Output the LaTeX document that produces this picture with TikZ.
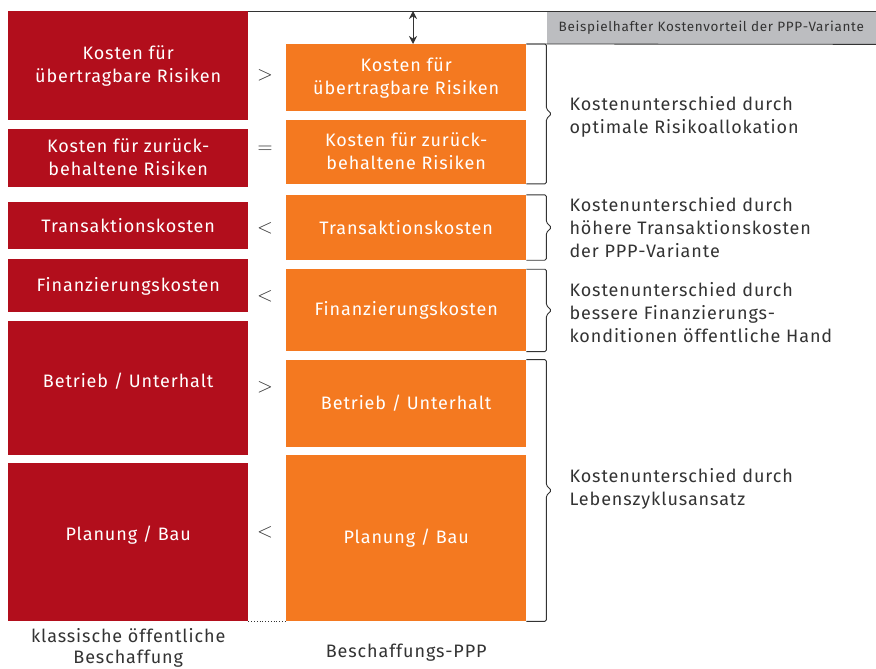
\documentclass[tikz,border=0pt]{standalone}
\usepackage{fontspec}
\setmainfont[LetterSpace=5]{Fira Sans}
\definecolor{KVRed}{HTML}{B20E1C}
\definecolor{KVOrange}{HTML}{F47920}
\definecolor{KVGray}{HTML}{BCBDC0}
\definecolor{KVText}{HTML}{333333}
\usetikzlibrary{positioning,arrows.meta,calc}

\begin{document}
\begin{tikzpicture}[x=1pt, y=-1pt, font=\fontsize{18}{23}\selectfont,
    redbox/.style={fill=KVRed, text=white, minimum width=240pt, inner sep=0pt, align=center},
    orangebox/.style={fill=KVOrange, text=white, minimum width=240pt, inner sep=0pt, align=center},
    relsym/.style={text=KVText, font=\fontsize{21}{23}\selectfont},
    note/.style={text=KVText, align=left, anchor=west},
    bracket/.style={draw=KVText, line width=0.9pt, rounded corners=1.5pt}]
    \useasboundingbox (0,0) rectangle (876,669);
    % klassische Beschaffung
    \node[redbox, anchor=north west, minimum height=109pt] (r1) at (8,11) {Kosten für\\übertragbare Risiken};
    \node[redbox, below=8pt of r1, minimum height=58pt] (r2) {Kosten für zurück-\\behaltene Risiken};
    \node[redbox, below=15pt of r2, minimum height=47pt] (r3) {Transaktionskosten};
    \node[redbox, below=10pt of r3, minimum height=53pt] (r4) {Finanzierungskosten};
    \node[redbox, below=8pt of r4, minimum height=134pt, text depth=16pt] (r5) {Betrieb / Unterhalt};
    \node[redbox, below=8pt of r5, minimum height=158pt, text depth=18pt] (r6) {Planung / Bau};
    % Beschaffungs-PPP
    \node[orangebox, anchor=north west, minimum height=67pt] (o1) at (286,44) {Kosten für\\übertragbare Risiken};
    \node[orangebox, below=8pt of o1, minimum height=64pt] (o2) {Kosten für zurück-\\behaltene Risiken};
    \node[orangebox, below=11pt of o2, minimum height=65pt] (o3) {Transaktionskosten};
    \node[orangebox, below=9pt of o3, minimum height=82pt] (o4) {Finanzierungskosten};
    \node[orangebox, below=8pt of o4, minimum height=87pt] (o5) {Betrieb / Unterhalt};
    \node[orangebox, below=8pt of o5, minimum height=166pt] (o6) {Planung / Bau};
    % Vergleich
    \node[relsym] (s1) at (265,75) {$>$};
    \node[relsym] (s2) at (265,150) {$=$};
    \node[relsym] (s3) at (265,228) {$<$};
    \node[relsym] (s4) at (265,296) {$<$};
    \node[relsym] (s5) at (265,387) {$>$};
    \node[relsym] (s6) at (265,532) {$<$};
    \draw[KVText, dotted, line width=0.8pt] (r6.south east) -- (o6.south west);
    % Kostenvorteil
    \node[fill=KVGray, text=KVText, anchor=north east, minimum width=329pt, minimum height=33pt,
      font=\fontsize{13.5}{16}\selectfont] (vt) at (876,11) {Beispielhafter Kostenvorteil der PPP-Variante};
    \draw[KVText, line width=0.8pt] (r1.north east) -- (vt.north east);
    \draw[KVText, line width=0.8pt] (o1.north east) -- (vt.south east);
    \coordinate (ad) at (413,11);
    \draw[KVText, line width=1pt, {Stealth[length=8pt,width=8pt]}-{Stealth[length=8pt,width=8pt]}] (ad) -- (ad |- o1.north);
    % Klammern
    \draw[bracket] (o1.north east) -- ++(20pt,0) |- ($(o1.north east)!0.5!(o2.south east)+(20pt,5pt)$)
      -- ++(5pt,-5pt) coordinate (b1) -- ++(-5pt,-5pt) |- (o2.south east);
    \draw[bracket] (o3.north east) -- ++(20pt,0) |- ($(o3.north east)!0.5!(o3.south east)+(20pt,5pt)$)
      -- ++(5pt,-5pt) coordinate (b2) -- ++(-5pt,-5pt) |- (o3.south east);
    \draw[bracket] (o4.north east) -- ++(20pt,0) |- ($(o4.north east)!0.5!(o4.south east)+(20pt,5pt)$)
      -- ++(5pt,-5pt) coordinate (b3) -- ++(-5pt,-5pt) |- (o4.south east);
    \draw[bracket] (o5.north east) -- ++(20pt,0) |- ($(o5.north east)!0.5!(o6.south east)+(20pt,5pt)$)
      -- ++(5pt,-5pt) coordinate (b4) -- ++(-5pt,-5pt) |- (o6.south east);
    \node[note] (n1) at (566,117) {Kostenunterschied durch\\optimale Risikoallokation};
    \node[note] (n2) at (566,228) {Kostenunterschied durch\\höhere Transaktionskosten\\der PPP-Variante};
    \node[note] (n3) at (566,313) {Kostenunterschied durch\\bessere Finanzierungs-\\konditionen öffentliche Hand};
    \node[note] (n4) at (566,489) {Kostenunterschied durch\\Lebenszyklusansatz};
    % Beschriftung
    \node[text=KVText, align=center, below=4pt of r6, font=\fontsize{18}{21}\selectfont] (lr) {klassische öffentliche\\Beschaffung};
    \node[text=KVText, below=19pt of o6] (lo) {Beschaffungs-PPP};
  \end{tikzpicture}
\end{document}
